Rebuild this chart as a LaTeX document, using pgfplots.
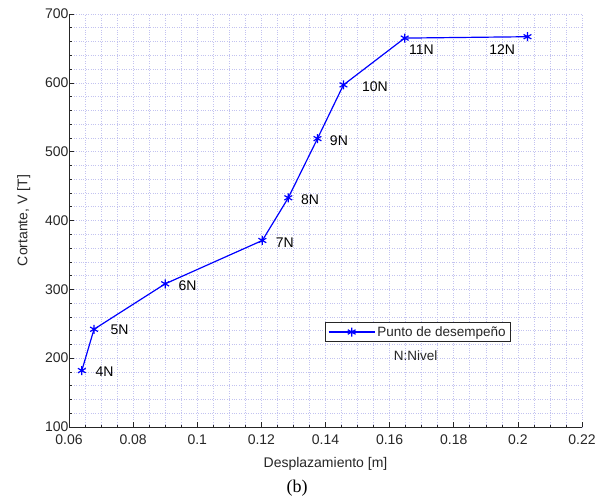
\documentclass[border=0pt]{standalone}
\usepackage{fontspec}
\setmainfont{Liberation Sans}
\newfontfamily\timesf{Liberation Serif}
\usepackage{pgfplots}
\pgfplotsset{compat=1.18}
\definecolor{txt}{rgb}{0.15,0.15,0.15}
\definecolor{gridc}{RGB}{195,195,240}
\begin{document}
\begin{tikzpicture}
\path[use as bounding box] (-69bp,-73bp) rectangle (536bp,427bp);
\begin{axis}[
  scale only axis, width=513bp, height=413bp,
  xmin=0.06, xmax=0.22, ymin=100, ymax=700,
  xtick={0.06,0.08,...,0.221}, ytick={100,200,...,700},
  minor x tick num=3, minor y tick num=4,
  scaled x ticks=false,
  xticklabel style={/pgf/number format/fixed,/pgf/number format/precision=2, yshift=-4bp},
  yticklabel style={xshift=3bp},
  /pgf/number format/assume math mode=true,
  axis x line*=bottom, axis y line*=left,
  axis line style={txt, line width=0.6pt, -},
  tick style={txt, line width=0.6pt},
  major tick length=5bp, minor tick length=2.5bp,
  tick align=inside,
  grid=both,
  major grid style={gridc, dotted, line width=0.6pt},
  minor grid style={gridc, dotted, line width=0.6pt},
  tick label style={font=\fontsize{14bp}{16bp}\selectfont, text=txt},
  label style={font=\fontsize{14bp}{16bp}\selectfont, text=txt},
  xlabel={Desplazamiento [m]},
  ylabel={Cortante, V [T]},
  xlabel style={yshift=-6bp},
  ylabel style={yshift=8bp},
  legend style={at={(axis cs:0.1688,238)}, anchor=center, draw=txt, line width=0.6pt,
    font=\fontsize{13.5bp}{15bp}\selectfont, text=txt, inner xsep=3bp, inner ysep=2bp},
  legend cell align=left,
  legend image code/.code={\draw[mark repeat=2,mark phase=2] plot coordinates {(0bp,0bp)(23bp,0bp)(46bp,0bp)};},
]
\addplot[blue, line width=1.2pt, mark=asterisk, mark size=4.5bp, mark options={line width=1.2pt}] coordinates {
(0.0640,182) (0.0678,242) (0.0900,308) (0.1203,371) (0.1284,433) (0.1375,519) (0.1456,597) (0.1647,665) (0.2030,667)
};
\addlegendentry{Punto de desempeño}
\begin{scope}[every node/.style={anchor=west, font=\fontsize{14bp}{16bp}\selectfont, text=black}]
\node at (axis cs:0.0672,180) {4N};
\node at (axis cs:0.0719,241) {5N};
\node at (axis cs:0.0931,306) {6N};
\node at (axis cs:0.1234,368) {7N};
\node at (axis cs:0.1313,430) {8N};
\node at (axis cs:0.1403,516) {9N};
\node at (axis cs:0.1503,594) {10N};
\node at (axis cs:0.1650,648) {11N};
\node at (axis cs:0.1900,648) {12N};
\end{scope}
\node[font=\fontsize{13.5bp}{15bp}\selectfont, text=txt] at (axis cs:0.1681,203) {N:Nivel};
\end{axis}
\node[font=\timesf\fontsize{18bp}{20bp}\selectfont] at (228bp,-61bp) {(b)};
\end{tikzpicture}
\end{document}
